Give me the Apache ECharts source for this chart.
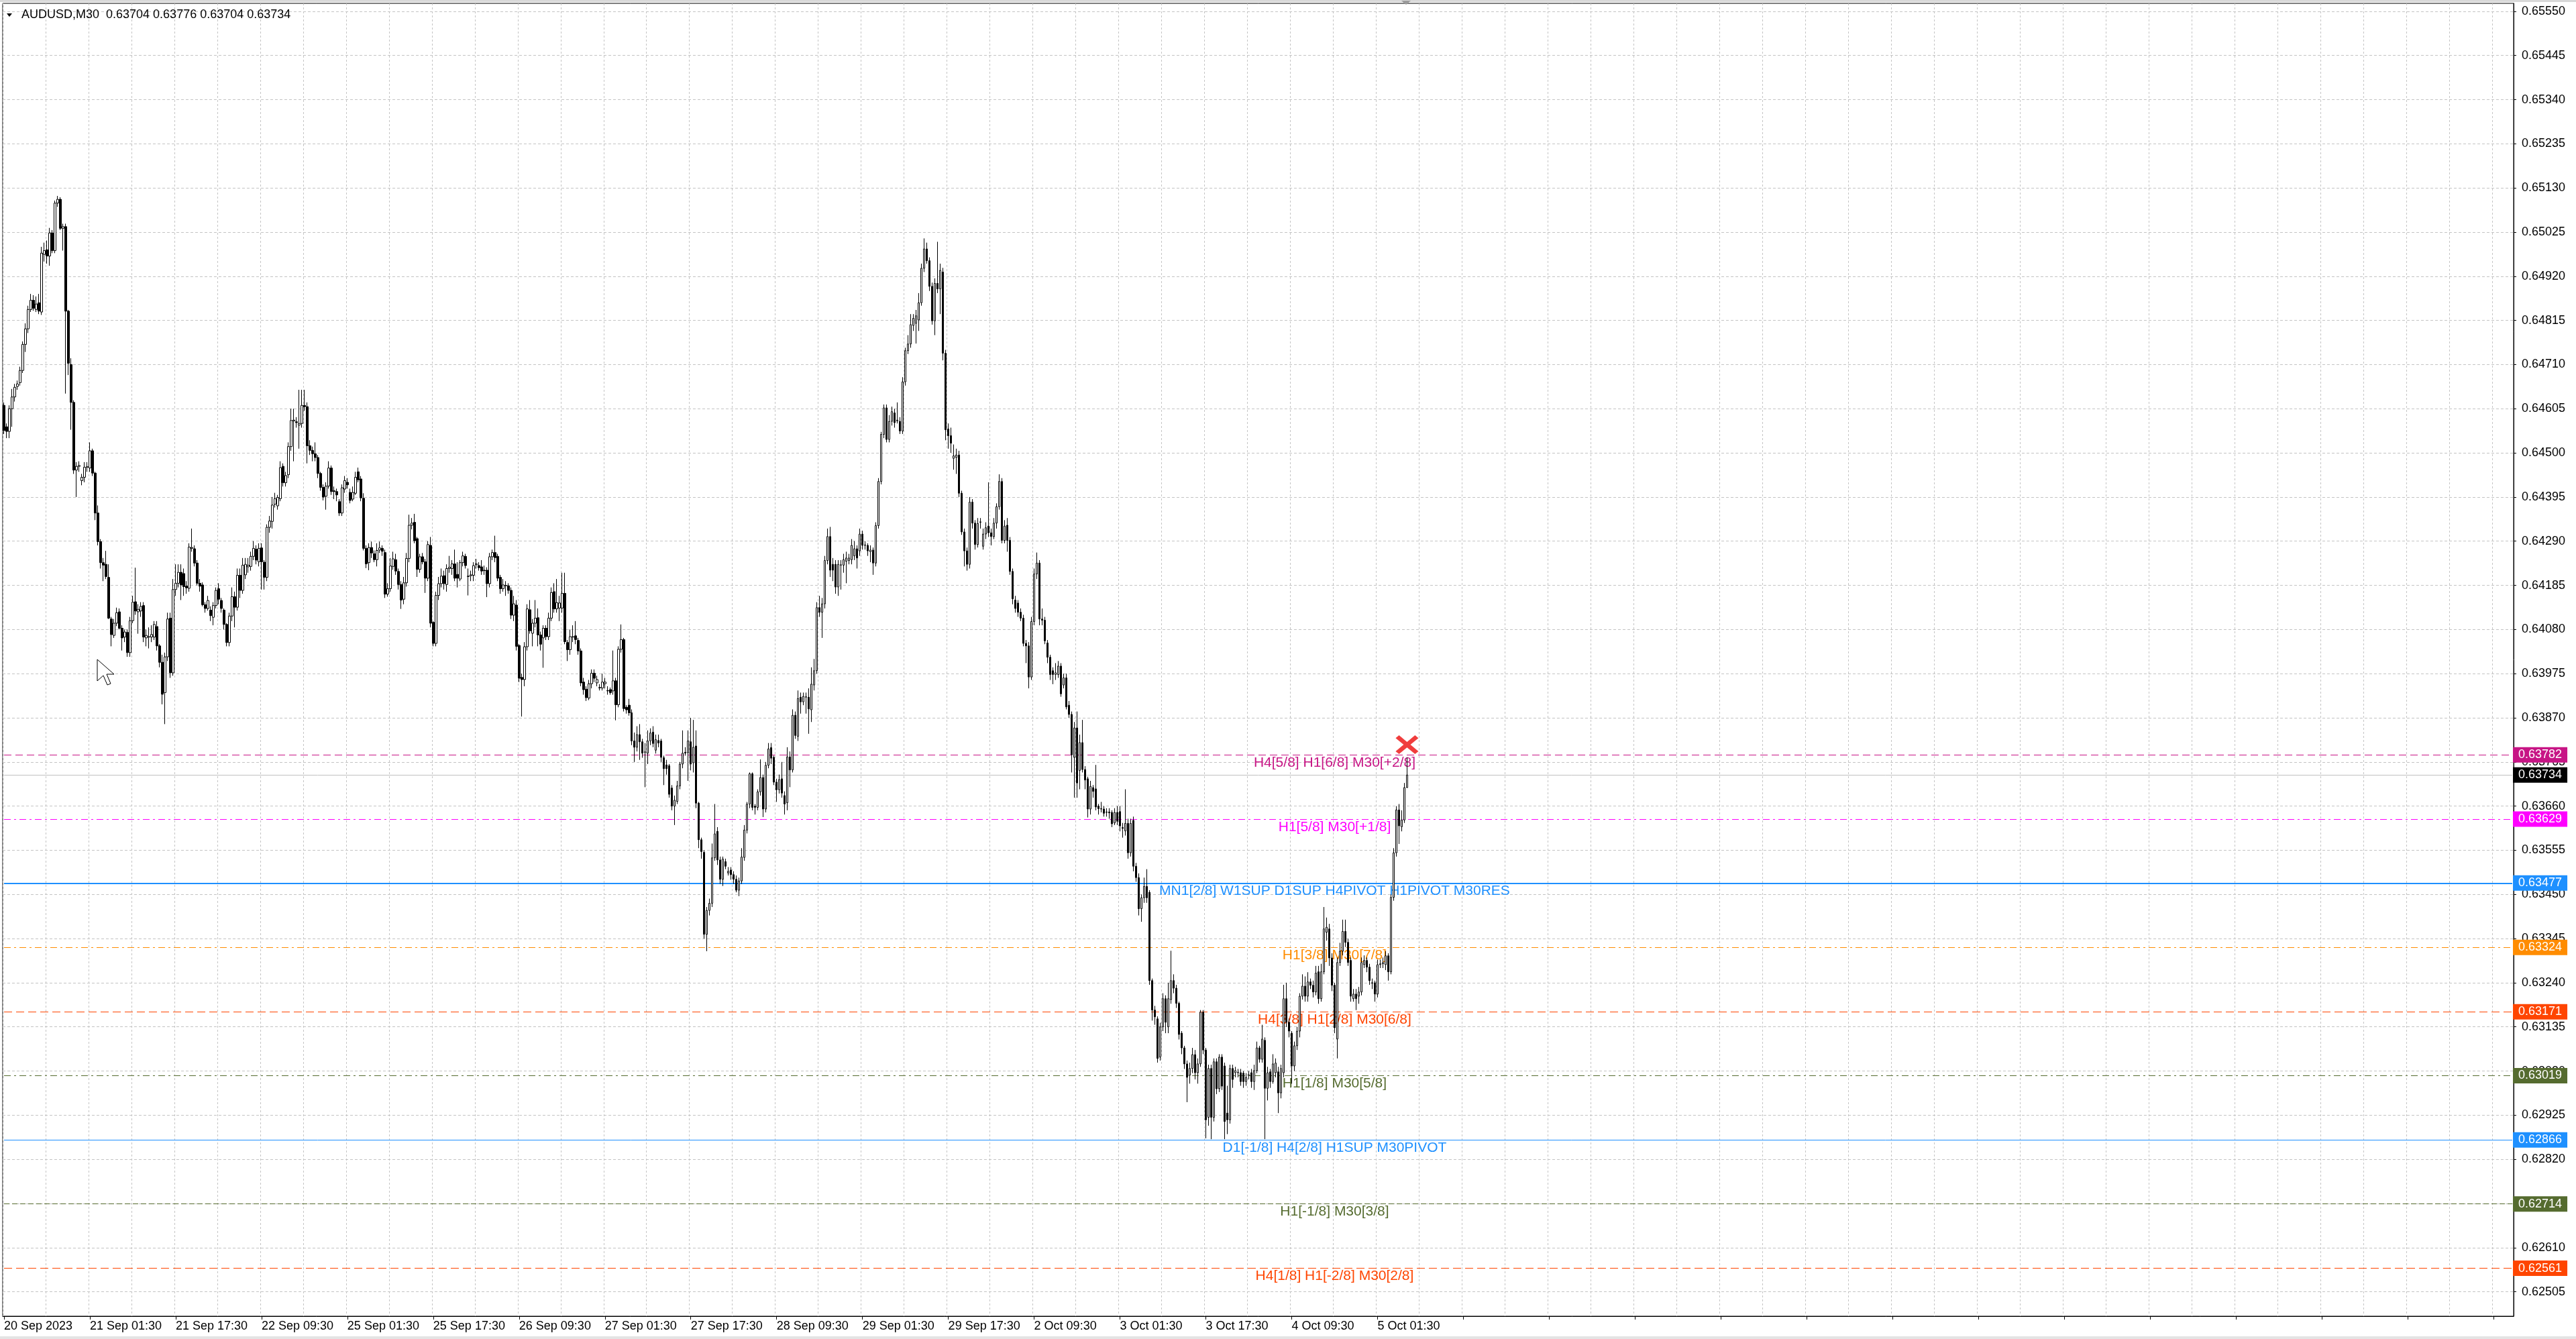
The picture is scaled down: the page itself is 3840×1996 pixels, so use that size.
<!DOCTYPE html>
<html>
<head>
<meta charset="utf-8">
<title>AUDUSD,M30</title>
<script src="https://cdn.jsdelivr.net/npm/echarts@6.0.0/dist/echarts.min.js"></script>
<style>
  html, body { margin: 0; padding: 0; background: #fff; }
  #main { width: 3840px; height: 1996px; }
</style>
</head>
<body>
<div id="main"></div>
<script>
// AUDUSD M30, bar 0 = 20 Sep 2023 09:30
const opens = [
  0.64613,0.64562,0.64551,0.64605,0.64633,0.64658,0.64667,0.64696,0.64758,0.64795,
  0.64841,0.64863,0.64841,0.64857,0.64835,0.64972,0.64983,0.64968,0.65023,0.64981,
  0.65094,0.65103,0.65034,0.65038,0.64837,0.64710,0.64620,0.64459,0.64468,0.64434,
  0.64442,0.64466,0.64464,0.64505,0.64452,0.64357,0.64289,0.64239,0.64235,0.64204,
  0.64105,0.64066,0.64095,0.64122,0.64083,0.64062,0.64073,0.64025,0.64101,0.64146,
  0.64122,0.64124,0.64137,0.64060,0.64063,0.64062,0.64062,0.64087,0.64041,0.64002,
  0.63930,0.64015,0.64107,0.63977,0.64175,0.64190,0.64216,0.64213,0.64183,0.64178,
  0.64273,0.64272,0.64238,0.64190,0.64186,0.64139,0.64130,0.64126,0.64109,0.64137,
  0.64177,0.64149,0.64126,0.64092,0.64049,0.64112,0.64158,0.64133,0.64209,0.64173,
  0.64210,0.64229,0.64230,0.64254,0.64271,0.64241,0.64274,0.64240,0.64204,0.64323,
  0.64337,0.64378,0.64374,0.64391,0.64468,0.64429,0.64448,0.64515,0.64576,0.64574,
  0.64566,0.64570,0.64613,0.64610,0.64517,0.64506,0.64498,0.64489,0.64451,0.64418,
  0.64397,0.64421,0.64464,0.64410,0.64408,0.64384,0.64357,0.64414,0.64430,0.64406,
  0.64390,0.64404,0.64455,0.64438,0.64392,0.64273,0.64239,0.64275,0.64260,0.64246,
  0.64269,0.64273,0.64263,0.64164,0.64177,0.64230,0.64246,0.64218,0.64187,0.64152,
  0.64191,0.64249,0.64328,0.64335,0.64296,0.64223,0.64253,0.64241,0.64202,0.64280,
  0.64097,0.64047,0.64161,0.64189,0.64208,0.64187,0.64225,0.64225,0.64236,0.64211,
  0.64200,0.64239,0.64254,0.64207,0.64208,0.64209,0.64234,0.64232,0.64229,0.64221,
  0.64221,0.64189,0.64253,0.64263,0.64254,0.64204,0.64177,0.64184,0.64184,0.64173,
  0.64114,0.64138,0.64042,0.63966,0.63961,0.64039,0.64127,0.64071,0.64095,0.64108,
  0.64067,0.64060,0.64083,0.64063,0.64107,0.64170,0.64129,0.64131,0.64131,0.64166,
  0.64049,0.64032,0.64062,0.64065,0.64054,0.64029,0.63955,0.63938,0.63917,0.63951,
  0.63976,0.63953,0.63942,0.63941,0.63951,0.63934,0.63937,0.63934,0.63958,0.63901,
  0.64033,0.64056,0.63895,0.63900,0.63882,0.63815,0.63800,0.63830,0.63813,0.63788,
  0.63786,0.63815,0.63836,0.63793,0.63816,0.63815,0.63775,0.63758,0.63756,0.63703,
  0.63660,0.63671,0.63708,0.63760,0.63788,0.63787,0.63813,0.63763,0.63803,0.63667,
  0.63580,0.63550,0.63355,0.63412,0.63429,0.63537,0.63600,0.63532,0.63486,0.63528,
  0.63501,0.63508,0.63497,0.63486,0.63460,0.63482,0.63538,0.63603,0.63665,0.63737,
  0.63660,0.63657,0.63694,0.63728,0.63653,0.63757,0.63799,0.63776,0.63717,0.63699,
  0.63725,0.63685,0.63668,0.63777,0.63746,0.63876,0.63826,0.63919,0.63908,0.63919,
  0.63919,0.63889,0.63948,0.63982,0.64132,0.64121,0.64141,0.64244,0.64301,0.64235,
  0.64235,0.64181,0.64233,0.64233,0.64242,0.64244,0.64246,0.64255,0.64272,0.64267,
  0.64307,0.64280,0.64280,0.64265,0.64269,0.64238,0.64327,0.64432,0.64544,0.64607,
  0.64532,0.64575,0.64595,0.64576,0.64575,0.64552,0.64669,0.64743,0.64759,0.64803,
  0.64808,0.64816,0.64857,0.64939,0.64985,0.64957,0.64896,0.64814,0.64903,0.64890,
  0.64930,0.64737,0.64557,0.64541,0.64487,0.64489,0.64495,0.64404,0.64312,0.64267,
  0.64235,0.64383,0.64333,0.64282,0.64335,0.64278,0.64307,0.64326,0.64310,0.64301,
  0.64333,0.64372,0.64432,0.64292,0.64328,0.64292,0.64218,0.64150,0.64143,0.64121,
  0.64107,0.64047,0.64041,0.63967,0.64099,0.64212,0.64238,0.64105,0.64102,0.64048,
  0.64014,0.63982,0.63973,0.63973,0.63993,0.63948,0.63965,0.63900,0.63878,0.63776,
  0.63846,0.63745,0.63811,0.63747,0.63725,0.63653,0.63704,0.63701,0.63660,0.63654,
  0.63653,0.63645,0.63646,0.63645,0.63620,0.63645,0.63647,0.63609,0.63601,0.63619,
  0.63549,0.63626,0.63517,0.63490,0.63416,0.63442,0.63469,0.63455,0.63245,0.63175,
  0.63154,0.63063,0.63135,0.63202,0.63135,0.63200,0.63245,0.63227,0.63191,0.63120,
  0.63085,0.63047,0.63020,0.63036,0.63069,0.63026,0.63047,0.63170,0.63080,0.62920,
  0.63036,0.62920,0.63052,0.62988,0.63063,0.63042,0.62930,0.62914,0.63036,0.63026,
  0.63026,0.63026,0.63025,0.63005,0.63020,0.63026,0.63005,0.63031,0.63085,0.63058,
  0.63103,0.62989,0.63028,0.63005,0.63026,0.63028,0.62978,0.63026,0.63202,0.63146,
  0.63120,0.63042,0.63090,0.63125,0.63208,0.63232,0.63208,0.63242,0.63234,0.63218,
  0.63266,0.63202,0.63266,0.63360,0.63368,0.63299,0.63234,0.63106,0.63288,0.63315,
  0.63362,0.63336,0.63293,0.63202,0.63213,0.63208,0.63218,0.63283,0.63293,0.63277,
  0.63240,0.63240,0.63213,0.63283,0.63285,0.63283,0.63304,0.63266,0.63443,0.63549,
  0.63651,0.63611,0.63627,0.63704
];
const highs = [
  0.64620,0.64570,0.64613,0.64652,0.64664,0.64672,0.64705,0.64765,0.64808,0.64850,
  0.64878,0.64875,0.64872,0.64878,0.64990,0.65000,0.65005,0.65035,0.65030,0.65100,
  0.65111,0.65108,0.65045,0.65045,0.64840,0.64725,0.64625,0.64478,0.64480,0.64450,
  0.64478,0.64478,0.64525,0.64510,0.64455,0.64375,0.64295,0.64250,0.64267,0.64235,
  0.64110,0.64105,0.64132,0.64130,0.64090,0.64080,0.64080,0.64110,0.64160,0.64227,
  0.64140,0.64145,0.64145,0.64080,0.64085,0.64090,0.64100,0.64100,0.64045,0.64020,
  0.64025,0.64120,0.64120,0.64200,0.64235,0.64235,0.64235,0.64225,0.64195,0.64285,
  0.64320,0.64280,0.64245,0.64200,0.64192,0.64145,0.64160,0.64135,0.64145,0.64180,
  0.64190,0.64155,0.64130,0.64095,0.64120,0.64180,0.64170,0.64225,0.64225,0.64250,
  0.64250,0.64250,0.64265,0.64290,0.64280,0.64285,0.64285,0.64245,0.64330,0.64350,
  0.64395,0.64405,0.64400,0.64480,0.64475,0.64455,0.64525,0.64605,0.64605,0.64585,
  0.64650,0.64650,0.64650,0.64620,0.64530,0.64515,0.64525,0.64495,0.64455,0.64425,
  0.64430,0.64480,0.64470,0.64420,0.64415,0.64390,0.64425,0.64445,0.64440,0.64415,
  0.64420,0.64455,0.64465,0.64445,0.64404,0.64280,0.64285,0.64289,0.64268,0.64285,
  0.64289,0.64280,0.64270,0.64190,0.64250,0.64265,0.64260,0.64225,0.64195,0.64205,
  0.64262,0.64353,0.64345,0.64355,0.64300,0.64260,0.64262,0.64248,0.64290,0.64300,
  0.64100,0.64170,0.64205,0.64225,0.64220,0.64235,0.64255,0.64245,0.64270,0.64240,
  0.64245,0.64265,0.64260,0.64225,0.64220,0.64240,0.64248,0.64240,0.64245,0.64232,
  0.64228,0.64262,0.64270,0.64303,0.64260,0.64210,0.64200,0.64195,0.64190,0.64180,
  0.64160,0.64150,0.64045,0.63975,0.64050,0.64140,0.64150,0.64105,0.64150,0.64130,
  0.64075,0.64090,0.64090,0.64120,0.64180,0.64190,0.64200,0.64160,0.64215,0.64215,
  0.64055,0.64080,0.64090,0.64100,0.64060,0.64035,0.63965,0.63945,0.63960,0.63985,
  0.63985,0.63970,0.63950,0.63975,0.63965,0.63945,0.63942,0.64030,0.63965,0.64040,
  0.64092,0.64060,0.63900,0.63915,0.63890,0.63835,0.63850,0.63855,0.63820,0.63810,
  0.63840,0.63845,0.63850,0.63830,0.63830,0.63820,0.63780,0.63770,0.63760,0.63710,
  0.63685,0.63720,0.63765,0.63840,0.63800,0.63840,0.63870,0.63865,0.63840,0.63670,
  0.63585,0.63555,0.63420,0.63440,0.63571,0.63665,0.63610,0.63540,0.63540,0.63535,
  0.63515,0.63515,0.63505,0.63495,0.63490,0.63560,0.63615,0.63670,0.63740,0.63740,
  0.63665,0.63700,0.63771,0.63735,0.63765,0.63810,0.63810,0.63780,0.63725,0.63735,
  0.63765,0.63695,0.63800,0.63790,0.63890,0.63885,0.63935,0.63930,0.63930,0.63930,
  0.63940,0.63990,0.64010,0.64145,0.64160,0.64155,0.64255,0.64320,0.64324,0.64250,
  0.64245,0.64245,0.64245,0.64260,0.64265,0.64260,0.64295,0.64290,0.64280,0.64320,
  0.64315,0.64290,0.64285,0.64280,0.64275,0.64335,0.64440,0.64550,0.64615,0.64615,
  0.64590,0.64610,0.64605,0.64620,0.64585,0.64680,0.64750,0.64780,0.64830,0.64830,
  0.64840,0.64880,0.64950,0.65010,0.65000,0.64965,0.64905,0.64915,0.65002,0.64950,
  0.64940,0.64745,0.64570,0.64560,0.64520,0.64510,0.64505,0.64410,0.64320,0.64275,
  0.64395,0.64390,0.64340,0.64345,0.64345,0.64320,0.64335,0.64430,0.64320,0.64345,
  0.64380,0.64449,0.64440,0.64340,0.64345,0.64300,0.64225,0.64160,0.64150,0.64130,
  0.64115,0.64055,0.64050,0.64110,0.64225,0.64263,0.64245,0.64130,0.64110,0.64055,
  0.64020,0.63990,0.64000,0.64005,0.64000,0.63975,0.63975,0.63910,0.63885,0.63860,
  0.63885,0.63830,0.63865,0.63755,0.63730,0.63720,0.63710,0.63758,0.63665,0.63670,
  0.63660,0.63655,0.63655,0.63650,0.63655,0.63660,0.63660,0.63620,0.63700,0.63630,
  0.63630,0.63635,0.63525,0.63500,0.63450,0.63490,0.63510,0.63460,0.63250,0.63185,
  0.63160,0.63145,0.63215,0.63210,0.63240,0.63316,0.63260,0.63235,0.63195,0.63125,
  0.63090,0.63055,0.63050,0.63085,0.63080,0.63060,0.63175,0.63175,0.63085,0.63045,
  0.63045,0.63060,0.63060,0.63070,0.63070,0.63050,0.62995,0.63045,0.63045,0.63040,
  0.63035,0.63035,0.63030,0.63025,0.63030,0.63035,0.63045,0.63100,0.63090,0.63140,
  0.63110,0.63040,0.63035,0.63070,0.63060,0.63040,0.63045,0.63235,0.63240,0.63155,
  0.63125,0.63100,0.63135,0.63215,0.63260,0.63255,0.63265,0.63250,0.63245,0.63280,
  0.63280,0.63285,0.63420,0.63395,0.63380,0.63310,0.63240,0.63300,0.63335,0.63390,
  0.63390,0.63345,0.63300,0.63225,0.63225,0.63230,0.63300,0.63305,0.63300,0.63285,
  0.63250,0.63245,0.63295,0.63295,0.63300,0.63315,0.63310,0.63450,0.63560,0.63660,
  0.63665,0.63650,0.63715,0.63776
];
const lows = [
  0.64545,0.64535,0.64535,0.64562,0.64622,0.64650,0.64660,0.64690,0.64740,0.64785,
  0.64835,0.64838,0.64835,0.64830,0.64828,0.64955,0.64950,0.64945,0.64975,0.64975,
  0.65085,0.65030,0.64981,0.64641,0.64685,0.64555,0.64450,0.64395,0.64455,0.64423,
  0.64430,0.64455,0.64455,0.64445,0.64340,0.64280,0.64225,0.64195,0.64200,0.64105,
  0.64040,0.64060,0.64088,0.64080,0.64030,0.64050,0.64015,0.64015,0.64095,0.64115,
  0.64070,0.64110,0.64050,0.64040,0.64035,0.64050,0.64055,0.64030,0.63990,0.63902,
  0.63855,0.64005,0.63965,0.63970,0.64160,0.64180,0.64150,0.64160,0.64165,0.64170,
  0.64265,0.64230,0.64185,0.64170,0.64135,0.64120,0.64125,0.64100,0.64090,0.64130,
  0.64140,0.64120,0.64080,0.64040,0.64040,0.64100,0.64085,0.64125,0.64155,0.64165,
  0.64200,0.64215,0.64220,0.64245,0.64235,0.64230,0.64175,0.64175,0.64195,0.64310,
  0.64320,0.64370,0.64365,0.64385,0.64420,0.64420,0.64440,0.64505,0.64480,0.64560,
  0.64510,0.64560,0.64600,0.64475,0.64495,0.64480,0.64480,0.64440,0.64410,0.64387,
  0.64365,0.64415,0.64400,0.64390,0.64385,0.64350,0.64350,0.64405,0.64415,0.64380,
  0.64385,0.64400,0.64430,0.64385,0.64268,0.64226,0.64221,0.64250,0.64240,0.64230,
  0.64262,0.64255,0.64155,0.64158,0.64170,0.64222,0.64210,0.64175,0.64129,0.64140,
  0.64182,0.64240,0.64318,0.64285,0.64205,0.64215,0.64235,0.64167,0.64195,0.64085,
  0.64040,0.64040,0.64150,0.64180,0.64175,0.64170,0.64215,0.64210,0.64195,0.64180,
  0.64195,0.64230,0.64225,0.64161,0.64195,0.64195,0.64225,0.64220,0.64210,0.64210,
  0.64157,0.64180,0.64245,0.64240,0.64195,0.64165,0.64170,0.64160,0.64165,0.64105,
  0.64100,0.64030,0.63955,0.63873,0.63945,0.64030,0.64070,0.64040,0.64085,0.64040,
  0.64030,0.63989,0.64055,0.64055,0.64100,0.64120,0.64120,0.64100,0.64120,0.64045,
  0.64005,0.64020,0.64050,0.64045,0.64020,0.63945,0.63925,0.63910,0.63912,0.63940,
  0.63955,0.63945,0.63935,0.63935,0.63940,0.63925,0.63925,0.63925,0.63864,0.63895,
  0.64025,0.63885,0.63880,0.63875,0.63805,0.63765,0.63790,0.63770,0.63775,0.63705,
  0.63760,0.63805,0.63800,0.63785,0.63800,0.63765,0.63710,0.63735,0.63680,0.63650,
  0.63615,0.63665,0.63700,0.63750,0.63780,0.63720,0.63745,0.63740,0.63655,0.63560,
  0.63535,0.63345,0.63315,0.63400,0.63420,0.63530,0.63520,0.63475,0.63470,0.63510,
  0.63495,0.63485,0.63475,0.63455,0.63446,0.63475,0.63530,0.63595,0.63655,0.63650,
  0.63640,0.63650,0.63685,0.63634,0.63645,0.63750,0.63760,0.63710,0.63670,0.63690,
  0.63680,0.63640,0.63650,0.63705,0.63740,0.63820,0.63815,0.63880,0.63900,0.63880,
  0.63832,0.63860,0.63935,0.63975,0.64110,0.64060,0.64130,0.64235,0.64205,0.64195,
  0.64165,0.64160,0.64175,0.64215,0.64190,0.64235,0.64235,0.64245,0.64225,0.64255,
  0.64270,0.64270,0.64255,0.64240,0.64210,0.64230,0.64320,0.64425,0.64535,0.64525,
  0.64525,0.64565,0.64560,0.64570,0.64545,0.64545,0.64660,0.64735,0.64750,0.64790,
  0.64760,0.64790,0.64850,0.64930,0.64950,0.64885,0.64805,0.64780,0.64880,0.64830,
  0.64720,0.64530,0.64510,0.64500,0.64460,0.64450,0.64395,0.64305,0.64230,0.64220,
  0.64225,0.64320,0.64270,0.64275,0.64320,0.64270,0.64295,0.64300,0.64280,0.64295,
  0.64320,0.64365,0.64285,0.64285,0.64265,0.64210,0.64140,0.64120,0.64110,0.64100,
  0.64040,0.64000,0.63940,0.63960,0.64090,0.64200,0.64090,0.64090,0.64045,0.64000,
  0.63960,0.63950,0.63960,0.63965,0.63920,0.63940,0.63890,0.63870,0.63740,0.63680,
  0.63680,0.63700,0.63740,0.63700,0.63633,0.63640,0.63680,0.63650,0.63640,0.63645,
  0.63635,0.63635,0.63630,0.63610,0.63615,0.63615,0.63600,0.63585,0.63590,0.63535,
  0.63540,0.63505,0.63480,0.63400,0.63385,0.63430,0.63430,0.63235,0.63150,0.63140,
  0.63050,0.63055,0.63125,0.63120,0.63120,0.63190,0.63215,0.63180,0.63105,0.63070,
  0.63035,0.62956,0.63000,0.63025,0.63010,0.63000,0.63040,0.63070,0.62870,0.62900,
  0.62868,0.62910,0.62975,0.62980,0.62985,0.62868,0.62880,0.62905,0.62990,0.63015,
  0.63015,0.62995,0.62990,0.62995,0.63010,0.62990,0.62985,0.63025,0.63050,0.63050,
  0.62868,0.62960,0.62990,0.63000,0.63015,0.62930,0.62965,0.63015,0.63135,0.63110,
  0.63000,0.63030,0.63080,0.63110,0.63200,0.63195,0.63195,0.63225,0.63205,0.63210,
  0.63190,0.63195,0.63260,0.63340,0.63280,0.63220,0.63120,0.63060,0.63280,0.63305,
  0.63325,0.63280,0.63195,0.63195,0.63175,0.63190,0.63210,0.63275,0.63265,0.63235,
  0.63225,0.63195,0.63205,0.63275,0.63275,0.63270,0.63245,0.63260,0.63435,0.63540,
  0.63570,0.63600,0.63620,0.63704
];
const closes = [
  0.64553,0.64551,0.64605,0.64633,0.64656,0.64664,0.64696,0.64758,0.64795,0.64841,
  0.64863,0.64844,0.64854,0.64837,0.64975,0.64981,0.64968,0.65023,0.64981,0.65094,
  0.65103,0.65034,0.65038,0.64837,0.64713,0.64620,0.64459,0.64468,0.64470,0.64442,
  0.64466,0.64467,0.64505,0.64452,0.64357,0.64289,0.64239,0.64233,0.64206,0.64107,
  0.64068,0.64095,0.64120,0.64083,0.64060,0.64074,0.64025,0.64101,0.64145,0.64124,
  0.64128,0.64135,0.64062,0.64066,0.64062,0.64068,0.64092,0.64041,0.64002,0.63926,
  0.64015,0.64105,0.63977,0.64175,0.64190,0.64216,0.64186,0.64182,0.64179,0.64276,
  0.64275,0.64238,0.64190,0.64183,0.64139,0.64130,0.64149,0.64113,0.64137,0.64173,
  0.64152,0.64130,0.64092,0.64049,0.64112,0.64158,0.64133,0.64209,0.64173,0.64233,
  0.64235,0.64233,0.64254,0.64273,0.64245,0.64273,0.64241,0.64204,0.64323,0.64338,
  0.64376,0.64391,0.64394,0.64465,0.64429,0.64446,0.64515,0.64577,0.64578,0.64572,
  0.64570,0.64613,0.64610,0.64517,0.64506,0.64498,0.64489,0.64451,0.64418,0.64395,
  0.64421,0.64464,0.64408,0.64408,0.64400,0.64357,0.64417,0.64434,0.64424,0.64387,
  0.64406,0.64442,0.64436,0.64393,0.64273,0.64236,0.64275,0.64262,0.64246,0.64268,
  0.64274,0.64266,0.64164,0.64177,0.64231,0.64248,0.64219,0.64187,0.64150,0.64191,
  0.64249,0.64328,0.64333,0.64291,0.64223,0.64253,0.64241,0.64202,0.64282,0.64095,
  0.64047,0.64161,0.64189,0.64207,0.64189,0.64225,0.64228,0.64236,0.64202,0.64202,
  0.64239,0.64255,0.64232,0.64206,0.64210,0.64232,0.64236,0.64227,0.64219,0.64220,
  0.64189,0.64253,0.64263,0.64251,0.64202,0.64177,0.64186,0.64185,0.64173,0.64114,
  0.64141,0.64040,0.63964,0.63961,0.64039,0.64129,0.64077,0.64095,0.64107,0.64067,
  0.64045,0.64083,0.64063,0.64107,0.64168,0.64129,0.64144,0.64143,0.64166,0.64051,
  0.64032,0.64063,0.64063,0.64056,0.64029,0.63953,0.63937,0.63918,0.63951,0.63976,
  0.63964,0.63961,0.63941,0.63955,0.63955,0.63935,0.63930,0.63958,0.63901,0.64033,
  0.64056,0.63892,0.63889,0.63882,0.63815,0.63800,0.63830,0.63813,0.63786,0.63789,
  0.63815,0.63834,0.63809,0.63818,0.63810,0.63776,0.63749,0.63749,0.63688,0.63660,
  0.63674,0.63708,0.63760,0.63786,0.63786,0.63815,0.63760,0.63800,0.63667,0.63580,
  0.63552,0.63355,0.63412,0.63429,0.63537,0.63594,0.63532,0.63486,0.63534,0.63517,
  0.63505,0.63497,0.63486,0.63460,0.63482,0.63539,0.63603,0.63665,0.63737,0.63657,
  0.63657,0.63694,0.63728,0.63653,0.63757,0.63796,0.63774,0.63717,0.63699,0.63723,
  0.63691,0.63665,0.63777,0.63746,0.63876,0.63828,0.63916,0.63908,0.63921,0.63920,
  0.63891,0.63950,0.63982,0.64132,0.64121,0.64141,0.64244,0.64301,0.64221,0.64221,
  0.64181,0.64235,0.64234,0.64246,0.64250,0.64250,0.64280,0.64272,0.64250,0.64307,
  0.64280,0.64281,0.64267,0.64269,0.64238,0.64327,0.64432,0.64544,0.64607,0.64532,
  0.64575,0.64598,0.64572,0.64578,0.64552,0.64669,0.64743,0.64759,0.64805,0.64820,
  0.64826,0.64857,0.64939,0.64985,0.64957,0.64896,0.64814,0.64903,0.64890,0.64934,
  0.64737,0.64555,0.64541,0.64523,0.64493,0.64495,0.64404,0.64312,0.64267,0.64235,
  0.64383,0.64333,0.64282,0.64332,0.64336,0.64307,0.64322,0.64310,0.64301,0.64333,
  0.64372,0.64432,0.64292,0.64326,0.64292,0.64218,0.64153,0.64130,0.64121,0.64107,
  0.64047,0.64041,0.63967,0.64099,0.64212,0.64238,0.64105,0.64102,0.64053,0.64014,
  0.63973,0.63973,0.63977,0.63993,0.63927,0.63965,0.63896,0.63878,0.63782,0.63846,
  0.63715,0.63811,0.63747,0.63722,0.63653,0.63707,0.63695,0.63658,0.63654,0.63653,
  0.63643,0.63646,0.63644,0.63618,0.63645,0.63624,0.63613,0.63607,0.63619,0.63549,
  0.63619,0.63517,0.63490,0.63416,0.63442,0.63469,0.63442,0.63245,0.63175,0.63159,
  0.63060,0.63135,0.63202,0.63146,0.63202,0.63245,0.63227,0.63191,0.63117,0.63085,
  0.63047,0.63015,0.63036,0.63069,0.63026,0.63047,0.63170,0.63080,0.62914,0.63036,
  0.62920,0.63052,0.62988,0.63063,0.62994,0.62910,0.62914,0.63036,0.63010,0.63031,
  0.63027,0.63005,0.63005,0.63015,0.63021,0.63005,0.63031,0.63085,0.63058,0.63106,
  0.62989,0.63026,0.63005,0.63047,0.63049,0.62978,0.63036,0.63202,0.63146,0.63125,
  0.63042,0.63090,0.63125,0.63208,0.63232,0.63208,0.63242,0.63234,0.63218,0.63263,
  0.63202,0.63266,0.63368,0.63372,0.63299,0.63234,0.63133,0.63288,0.63315,0.63362,
  0.63336,0.63288,0.63208,0.63213,0.63202,0.63218,0.63288,0.63293,0.63277,0.63245,
  0.63239,0.63213,0.63283,0.63285,0.63288,0.63304,0.63266,0.63443,0.63549,0.63651,
  0.63613,0.63627,0.63704,0.63734
];

// time scale labels, one every 32 bars (16 hours)
const timeLabels = [
  '20 Sep 2023', '21 Sep 01:30', '21 Sep 17:30', '22 Sep 09:30', '25 Sep 01:30',
  '25 Sep 17:30', '26 Sep 09:30', '27 Sep 01:30', '27 Sep 17:30', '28 Sep 09:30',
  '29 Sep 01:30', '29 Sep 17:30', '2 Oct 09:30', '3 Oct 01:30', '3 Oct 17:30',
  '4 Oct 09:30', '5 Oct 01:30'
];

// price scale labels
const priceTicks = [
  0.65550, 0.65445, 0.65340, 0.65235, 0.65130, 0.65025, 0.64920, 0.64815, 0.64710, 0.64605,
  0.64500, 0.64395, 0.64290, 0.64185, 0.64080, 0.63975, 0.63870, 0.63765, 0.63660, 0.63555,
  0.63450, 0.63345, 0.63240, 0.63135, 0.63030, 0.62925, 0.62820, 0.62715, 0.62610, 0.62505
];

// murrey / pivot levels drawn by the indicator
const levelPrices = [0.63782, 0.63629, 0.63477, 0.63324, 0.63171, 0.63019, 0.62866, 0.62714, 0.62561];
const levelTexts = [
  'H4[5/8] H1[6/8] M30[+2/8]',
  'H1[5/8] M30[+1/8]',
  'MN1[2/8] W1SUP D1SUP H4PIVOT H1PIVOT M30RES',
  'H1[3/8] M30[7/8]',
  'H4[3/8] H1[2/8] M30[6/8]',
  'H1[1/8] M30[5/8]',
  'D1[-1/8] H4[2/8] H1SUP M30PIVOT',
  'H1[-1/8] M30[3/8]',
  'H4[1/8] H1[-2/8] M30[2/8]'
];
const bidPrice = 0.63734;
const signalPrice = 0.63806;
const headerText = 'AUDUSD,M30  0.63704 0.63776 0.63704 0.63734';

// --- styles / layout ---
const levelStyles = [
  { color: '#C71585', type: [11, 6], width: 1 },
  { color: '#FF00FF', type: [10, 5, 3, 5], width: 1 },
  { color: '#1E90FF', type: 'solid', width: 2 },
  { color: '#FF8C00', type: [10, 5, 3, 5], width: 1 },
  { color: '#FF4500', type: [12, 6], width: 1 },
  { color: '#556B2F', type: [10, 5, 3, 5], width: 1 },
  { color: '#1E90FF', type: 'solid', width: 1 },
  { color: '#556B2F', type: [8, 4], width: 1 },
  { color: '#FF4500', type: [12, 6], width: 1 }
];
const FONT = 'Liberation Sans';
const slotCount = 936;      // visible bar slots across the chart
const labelBar = 496;       // level captions are centred over this bar
const lastBar = opens.length - 1;

const slots = [];
for (let i = 0; i < slotCount; i++) slots.push(String(i));

const candles = opens.map((o, i) => [o, closes[i], lows[i], highs[i]]);

function priceTag(p, bg) {
  return {
    show: true, position: 'end', distance: 1,
    formatter: p.toFixed(5),
    color: '#fff', backgroundColor: bg,
    padding: [3, 8, 2, 8], fontFamily: FONT, fontSize: 18
  };
}

const levelLines = levelPrices.map((p, i) => [
  { coord: [0, p], lineStyle: { color: levelStyles[i].color, type: levelStyles[i].type, width: levelStyles[i].width }, label: priceTag(p, levelStyles[i].color) },
  { coord: [slotCount - 1, p] }
]);
levelLines.push([
  { coord: [0, bidPrice], lineStyle: { color: '#c0c0c0', type: 'solid', width: 1 }, label: priceTag(bidPrice, '#000') },
  { coord: [slotCount - 1, bidPrice] }
]);

const levelCaptions = levelPrices.map((p, i) => ({
  coord: [labelBar, p],
  symbol: 'rect',
  symbolSize: 1,
  itemStyle: { color: 'rgba(0,0,0,0)' },
  label: {
    show: true, position: 'bottom', distance: 1,
    formatter: levelTexts[i],
    color: levelStyles[i].color, fontFamily: FONT, fontSize: 21
  }
}));

const crossPath = 'path://M0,3 L3,0 L10,7 L17,0 L20,3 L13,10 L20,17 L17,20 L10,13 L3,20 L0,17 L7,10 Z';

const chart = echarts.init(document.getElementById('main'), null, { renderer: 'canvas' });

chart.setOption({
  animation: false,
  backgroundColor: '#fff',
  grid: {
    left: 4, right: 93, top: 5, bottom: 34,
    show: true, borderColor: '#000', borderWidth: 1, backgroundColor: '#fff',
    containLabel: false, outerBoundsMode: 'none'
  },
  xAxis: {
    type: 'category',
    data: slots,
    boundaryGap: true,
    axisLine: { show: true, lineStyle: { color: '#000', width: 1 } },
    axisTick: { show: true, interval: 31, alignWithLabel: true, length: 5, lineStyle: { color: '#000' } },
    axisLabel: {
      interval: 31, align: 'left', margin: 6,
      fontFamily: FONT, fontSize: 18, color: '#000',
      formatter: (v, idx) => timeLabels[idx / 32] || ''
    },
    splitLine: { show: true, interval: 15, lineStyle: { color: '#c4c4c4', type: [3, 3], width: 1 } }
  },
  yAxis: {
    type: 'value',
    position: 'right',
    min: 0.62447,
    max: 0.65569,
    axisLine: { show: true, lineStyle: { color: '#000', width: 1 } },
    axisTick: { show: true, length: 4, customValues: priceTicks, lineStyle: { color: '#000' } },
    axisLabel: {
      customValues: priceTicks, margin: 12, hideOverlap: false,
      fontFamily: FONT, fontSize: 18, color: '#000',
      formatter: v => Number(v).toFixed(5)
    },
    splitLine: { show: true, lineStyle: { color: '#c4c4c4', type: [4, 3], width: 1 } }
  },
  series: [
    {
      type: 'candlestick',
      data: candles,
      barWidth: 3,
      silent: true,
      z: 3,
      itemStyle: {
        color: '#fff', color0: '#000',
        borderColor: '#000', borderColor0: '#000', borderColorDoji: '#000',
        borderWidth: 1
      },
      // levels sit behind the candles, like MT4 background objects
      markLine: {
        silent: true, symbol: ['none', 'none'], animation: false, z: 1,
        data: levelLines
      },
      markPoint: {
        silent: true, animation: false, z: 1,
        data: levelCaptions
      }
    },
    {
      type: 'scatter',
      data: [],
      silent: true,
      z: 10,
      markPoint: {
        silent: true, animation: false, z: 10,
        data: [{
          coord: [lastBar, signalPrice],
          symbol: crossPath,
          symbolSize: [34, 28],
          itemStyle: { color: 'rgba(238,40,40,0.9)' },
          label: { show: false }
        }]
      }
    }
  ],
  graphic: [
    // window frame strip
    { type: 'rect', left: 0, top: 0, shape: { width: 3840, height: 3 }, style: { fill: '#d8d8d8' }, silent: true },
    { type: 'rect', left: 0, top: 1992, shape: { width: 3840, height: 4 }, style: { fill: '#e4e4e4' }, silent: true },
    // header
    { type: 'polygon', shape: { points: [[10, 20], [18, 20], [14, 25]] }, style: { fill: '#000' }, silent: true, z: 20 },
    {
      type: 'text', left: 32, top: 13, z: 20, silent: true,
      style: { text: headerText, font: '18px "Liberation Sans"', fill: '#000' }
    },
    // chart shift marker
    { type: 'polygon', shape: { points: [[2089, 1], [2103, 1], [2096, 7]] }, style: { fill: '#9a9a9a' }, silent: true, z: 20 },
    // mouse pointer caught in the screenshot
    {
      type: 'polygon', silent: true, z: 20,
      shape: { points: [[145, 983], [145, 1015], [154, 1007], [160, 1021], [165, 1019], [159, 1005], [170, 1005]] },
      style: { fill: '#fff', stroke: '#000', lineWidth: 1 }
    }
  ]
});
</script>
</body>
</html>
